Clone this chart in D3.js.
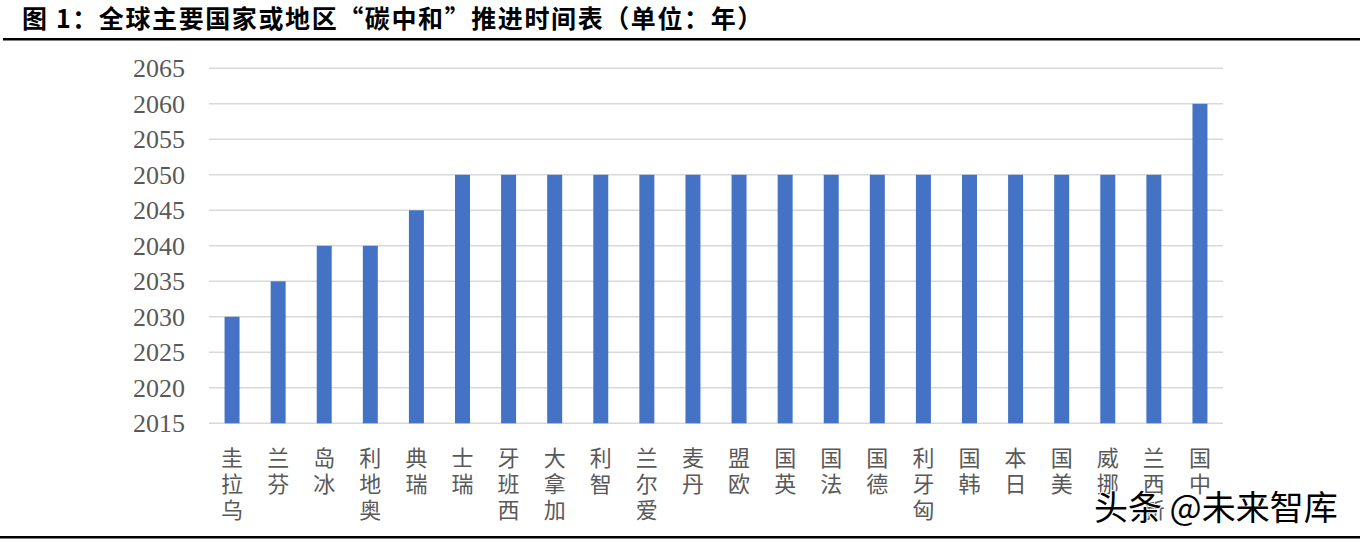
<!DOCTYPE html>
<html>
<head>
<meta charset="utf-8">
<script src="https://cdn.jsdelivr.net/npm/d3@7/dist/d3.min.js"></script>
<style>
  body { margin: 0; background: #fff; }
  svg { display: block; }
</style>
</head>
<body>
<script>
  const regions = ['乌拉圭', '芬兰', '冰岛', '奥地利', '瑞典', '瑞士', '西班牙', '加拿大', '智利',
                   '爱尔兰', '丹麦', '欧盟', '英国', '法国', '德国', '匈牙利', '韩国', '日本',
                   '美国', '挪威', '新西兰', '中国']
  const years = [2030, 2035, 2040, 2040, 2045, 2050, 2050, 2050, 2050,
                 2050, 2050, 2050, 2050, 2050, 2050, 2050, 2050, 2050,
                 2050, 2050, 2050, 2060]
  const yTicks = [2015, 2020, 2025, 2030, 2035, 2040, 2045, 2050, 2055, 2060, 2065]

  const W = 1360, H = 542
  const svg = d3.select('body').append('svg')
                .attr('width', W)
                .attr('height', H)

  // title + rules
  svg.append('text')
     .attr('x', 22)
     .attr('y', 28)
     .attr('font-family', '"Noto Sans CJK SC", sans-serif')
     .attr('font-weight', 'bold')
     .attr('font-size', 25)
     .attr('letter-spacing', 1.6)
     .attr('fill', '#000')
     .text('图 1：全球主要国家或地区“碳中和”推进时间表（单位：年）')

  svg.append('rect').attr('x', 3).attr('y', 38).attr('width', W - 3).attr('height', 2.5).attr('fill', '#000')
  svg.append('rect').attr('x', 0).attr('y', 536).attr('width', W).attr('height', 2.5).attr('fill', '#000')

  const x = d3.scaleBand()
              .domain(regions)
              .range([209, 1223])
              .paddingInner(0.675)
              .paddingOuter(0.3375)
  const y = d3.scaleLinear()
              .domain([2015, 2065])
              .range([423.3, 68.3])

  // gridlines
  svg.append('g')
     .selectAll('line')
     .data(yTicks)
     .enter()
     .append('line')
     .attr('x1', 209)
     .attr('x2', 1223)
     .attr('y1', d => y(d))
     .attr('y2', d => y(d))
     .attr('stroke', '#d9d9d9')
     .attr('stroke-width', 1.5)

  const yAxis = svg.append('g')
                   .attr('transform', 'translate(209,0)')
                   .call(d3.axisLeft(y).tickValues(yTicks).tickFormat(d3.format('d')).tickSize(0).tickPadding(24))
  yAxis.select('.domain').remove()
  yAxis.selectAll('text')
       .attr('font-family', '"Liberation Serif", "Times New Roman", serif')
       .attr('font-size', 26)
       .attr('fill', '#595959')

  // bars
  svg.append('g')
     .selectAll('rect')
     .data(years)
     .enter()
     .append('rect')
     .attr('x', (d, i) => x(regions[i]))
     .attr('width', x.bandwidth())
     .attr('y', d => y(d))
     .attr('height', d => y(2015) - y(d))
     .attr('fill', '#4472C4')

  // category labels: characters stacked upright, last one on top
  const labels = svg.append('g')
                    .selectAll('text')
                    .data(regions)
                    .enter()
                    .append('text')
                    .attr('font-family', '"Noto Sans CJK SC", sans-serif')
                    .attr('font-size', 22)
                    .attr('fill', '#595959')
                    .attr('text-anchor', 'middle')
  labels.selectAll('tspan')
        .data(d => Array.from(d).reverse())
        .enter()
        .append('tspan')
        .attr('x', function () { return x(this.parentNode.__data__) + x.bandwidth() / 2 })
        .attr('y', (c, k) => 466 + k * 26)
        .text(c => c)

  // watermark
  svg.append('text')
     .attr('x', 1094)
     .attr('y', 520)
     .attr('font-family', '"Noto Sans CJK SC", sans-serif')
     .attr('font-size', 34)
     .attr('fill', '#000')
     .attr('stroke', '#fff')
     .attr('stroke-width', 2)
     .attr('paint-order', 'stroke')
     .text('头条 @未来智库')
</script>
</body>
</html>
